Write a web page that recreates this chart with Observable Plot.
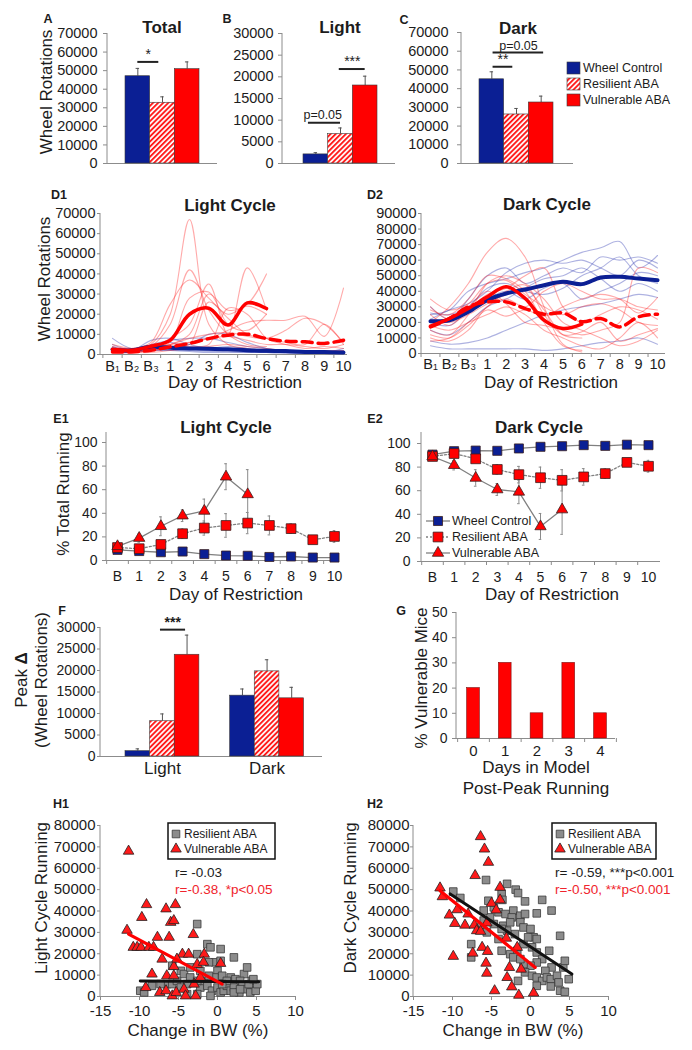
<!DOCTYPE html>
<html>
<head>
<meta charset="utf-8">
<script src="https://cdn.jsdelivr.net/npm/d3@7"></script>
<script src="https://cdn.jsdelivr.net/npm/@observablehq/plot@0.6"></script>
<style>
html, body { margin: 0; padding: 0; background: #fff; }
#fig { position: relative; width: 692px; height: 1050px; overflow: hidden; background: #fff; }
#fig > svg { position: absolute; left: 0; top: 0; }
</style>
</head>
<body>
<div id="fig"></div>
<script>
// ================= DATA =================
const groups = ["Wheel Control", "Resilient ABA", "Vulnerable ABA"];
const totalMean = [47000, 32700, 50800];
const totalErr = [4200, 3200, 3900];
const lightMean = [2100, 6800, 18000];
const lightErr = [400, 1400, 2150];
const darkMean = [45000, 26200, 32600];
const darkErr = [4000, 3200, 3400];

// significance annotations (data units: bar index, value)
const sigTotal = [{x1: 0.5, x2: 1.35, y: 54700, label: "*", tx: 0.92, ty: 58700}];
const sigLight = [
  {x1: 0.2, x2: 1.5, y: 9400, label: "p=0.05", tx: 0.78, ty: 11200},
  {x1: 1.45, x2: 2.5, y: 21800, label: "***", tx: 1.98, ty: 23500}
];
const sigDark = [
  {x1: 0.55, x2: 2.6, y: 59300, label: "p=0.05", tx: 1.58, ty: 62900},
  {x1: 0.55, x2: 1.35, y: 51700, label: "**", tx: 0.95, ty: 55300}
];

const dayLabelsD = ["B\u2081", "B\u2082", "B\u2083", "1", "2", "3", "4", "5", "6", "7", "8", "9", "10"];
const dayLabelsE = ["B", "1", "2", "3", "4", "5", "6", "7", "8", "9", "10"];

// D1 light cycle
const d1WheelMean = [2500, 2100, 3800, 3300, 3000, 2800, 2600, 2100, 1800, 1700, 1300, 1200, 1000];
const d1ResMean = [1300, 1300, 2100, 3800, 5500, 7900, 9600, 10100, 7900, 6600, 6300, 5500, 7100];
const d1VulMean = [2600, 2100, 4100, 7100, 20000, 23000, 14600, 25600, 22800, null, null, null, null];
const d1RedTraces = [
  [3000, 2000, 5000, 20000, 67000, 15000, 5000, 3000, 2000, null, null, null, null],
  [2000, 1500, 4000, 15000, 42000, 22000, 10000, 5000, 4000, null, null, null, null],
  [4000, 3000, 6000, 25000, 37000, 28000, 20000, 24000, 20000, null, null, null, null],
  [1000, 1000, 3000, 8000, 15000, 35000, 10000, 43000, 22000, null, null, null, null],
  [2000, 2000, 3000, 5000, 10000, 30000, 22000, 25000, 40000, null, null, null, null],
  [2000, 2000, 4000, 6000, 28000, 31000, 15000, 12000, 20000, null, null, null, null],
  [1000, 2000, 2000, 4000, 6000, 8000, 12000, 16000, 17000, 17000, 19000, 9000, 33000],
  [3000, 2000, 3000, 5000, 8000, 10000, 11000, 9000, 8000, 12000, 18000, 15000, 6000],
  [2000, 1000, 2000, 3000, 5000, 26000, 18000, 10000, 8000, 6000, 5000, 15000, 5000],
  [1000, 1000, 2000, 3000, 4000, 5000, 23000, 20000, 8000, 5000, 3000, 4000, 3000],
  [5000, 3000, 3000, 5000, 6000, 8000, 9000, 7000, 5000, 5000, 4000, 3000, 5000],
  [1000, 1000, 1000, 2000, 3000, 4000, 5000, 4000, 3000, 2000, 2000, 2000, 2000]
];
const d1BlueTraces = [
  [8000, 3000, 5000, 7000, 8000, 8000, 6000, 4000, 3000, 2000, 2000, 1500, 1500],
  [5000, 2000, 3000, 4000, 5000, 10000, 10000, 6000, 3000, 2000, 1500, 1000, 2000],
  [3000, 1500, 2000, 3000, 3000, 3000, 4000, 3000, 2000, 2000, 1000, 1000, 1000],
  [2000, 1000, 4000, 6000, 3000, 2000, 2000, 2000, 1000, 1000, 1000, 500, 500],
  [1000, 1000, 2000, 2000, 2000, 1500, 1500, 1000, 1000, 1000, 500, 500, 500],
  [4000, 2000, 7000, 8000, 5000, 3000, 2000, 2000, 2000, 1500, 1500, 1000, 3000],
  [1500, 2500, 2500, 2000, 1500, 1000, 1000, 1000, 1000, 500, 500, 500, 500]
];

// D2 dark cycle
const d2WheelMean = [20800, 21400, 26800, 34300, 38600, 41100, 43900, 46100, 44600, 48900, 49300, 48200, 47100];
const d2ResMean = [17100, 22500, 30000, 33200, 33200, 28900, 25300, 26100, 20400, 22500, 17100, 23600, 25300];
const d2VulMean = [17600, 22500, 28900, 36400, 42900, 35400, 21400, 16100, 18900, null, null, null, null];
const d2RedTraces = [
  [20000, 30000, 45000, 65000, 74000, 62000, 30000, 6000, 1000, null, null, null, null],
  [28000, 25000, 35000, 50000, 48000, 40000, 20000, 5000, 2000, null, null, null, null],
  [22000, 20000, 25000, 32000, 38000, 42000, 28000, 12000, 10000, null, null, null, null],
  [15000, 12000, 25000, 45000, 50000, 45000, 35000, 20000, 15000, 10000, 5000, 8000, 15000],
  [25000, 18000, 28000, 38000, 42000, 50000, 55000, 30000, 20000, 25000, 30000, 28000, 22000],
  [10000, 8000, 15000, 30000, 35000, 30000, 40000, 45000, 40000, 35000, 35000, 30000, 28000],
  [18000, 15000, 20000, 25000, 30000, 25000, 15000, 10000, 5000, 3000, 10000, 20000, 10000],
  [30000, 22000, 30000, 40000, 32000, 20000, 18000, 15000, 12000, 15000, 20000, 55000, 52000],
  [12000, 10000, 18000, 28000, 24000, 28000, 24000, 30000, 35000, 38000, 35000, 26000, 36000],
  [8000, 10000, 20000, 30000, 40000, 44000, 25000, 12000, 14000, 20000, 8000, 12000, 16000],
  [35000, 28000, 32000, 45000, 47000, 38000, 30000, 25000, 30000, 32000, 28000, 20000, 18000]
];
const d2BlueTraces = [
  [25000, 28000, 40000, 45000, 48000, 52000, 55000, 60000, 65000, 68000, 72000, 55000, 63000],
  [30000, 22000, 35000, 50000, 55000, 45000, 50000, 55000, 52000, 62000, 60000, 62000, 58000],
  [22000, 28000, 32000, 40000, 52000, 58000, 60000, 58000, 60000, 55000, 50000, 60000, 55000],
  [20000, 18000, 28000, 35000, 40000, 35000, 42000, 45000, 35000, 40000, 45000, 52000, 50000],
  [15000, 12000, 20000, 30000, 35000, 42000, 48000, 50000, 55000, 48000, 40000, 45000, 40000],
  [5000, 3000, 3000, 3000, 3000, 3000, 2000, 3000, 5000, 7000, 8000, 10000, 6000],
  [8000, 6000, 7000, 10000, 15000, 20000, 25000, 28000, 30000, 32000, 35000, 38000, 36000],
  [26000, 25000, 30000, 42000, 45000, 40000, 38000, 42000, 50000, 55000, 62000, 50000, 45000]
];

// E: % of total running
const e1Wheel = [9, 8, 7, 7.6, 5.4, 4.2, 4, 3, 3.4, 2.5, 2.5];
const e1WheelErr = [1, 1, 1, 1, 1, 0.8, 0.8, 0.6, 0.6, 0.5, 0.5];
const e1Res = [11, 10, 13.6, 22.7, 27.5, 29.7, 31.7, 29.7, 27, 17.6, 20.4];
const e1ResErr = [2, 2, 3, 4, 6, 10, 9, 8, 4, 3, 5];
const e1Vul = [12, 19, 29, 38, 42, 71, 56];
const e1VulErr = [2, 3.5, 8, 5, 10, 11, 21];
const e2Wheel = [90.6, 93.5, 94, 93.8, 95.8, 97.2, 97.7, 98.6, 98, 99, 98.6];
const e2WheelErr = [1, 1, 1, 1, 1, 0.8, 0.8, 0.6, 0.6, 0.5, 0.5];
const e2Res = [89, 91.5, 87, 78, 73.6, 71, 68.8, 71.7, 74.5, 84, 80.7];
const e2ResErr = [2, 3, 3, 4, 7, 9, 9, 7, 4, 3, 5];
const e2Vul = [89, 81.6, 70.8, 61, 59, 29.7, 44];
const e2VulErr = [2, 4, 7, 5, 10, 11, 21];

// F: peak delta
const peakCats = ["Light", "Dark"];
const peakLight = [1240, 8200, 23660];
const peakLightErr = [540, 1700, 4570];
const peakDark = [14150, 19800, 13530];
const peakDarkErr = [1550, 2700, 2560];
const sigPeak = [{x1: 1.42, x2: 2.44, y: 29500, label: "***", tx: 1.92, ty: 31100}];

// G: days in model post-peak running
const postPeakDays = [0, 1, 2, 3, 4];
const pctVulnerable = [20, 30, 10, 30, 10];

// H1 light cycle running vs change in BW
const h1Vul = [[-11.4,68000],[-11.6,31000],[-9.7,37000],[-9.1,43000],[-10.8,23000],[-10.3,23000],[-9.8,23000],[-8.8,23000],[-7.7,27700],[-8.2,23000],[-8.4,10500],[-9.2,4200],[-7.4,1900],[-6.6,41000],[-6.2,27700],[-7.1,17500],[-6.0,34700],[-5.6,35500],[-5.4,43000],[-6.5,9700],[-6.6,2700],[-5.6,14000],[-5.6,9700],[-5.8,300],[-5.3,1900],[-4.5,19800],[-3.7,19800],[-4.3,3400],[-4.1,300],[-3.1,29000],[-2.8,300],[-2.6,15000],[-1.7,19800],[-1.8,16000],[0.4,15500],[-5.2,17500],[-3.0,5800],[-2.2,8900]];
const h1Res = [[-2.6,33900],[-1.3,24500],[-0.9,23000],[0.4,22200],[2.1,18300],[-0.3,16000],[-1.1,16000],[-2.6,19800],[0.4,16700],[3.4,10500],[3.8,13600],[-4.7,12000],[-4.3,10500],[-5.8,14400],[0,12000],[0.6,9700],[1.7,8900],[2.3,8100],[2.9,7300],[4.4,7300],[-9.9,2700],[-9.4,1900],[-6.5,5800],[-5.8,5800],[-5.2,7300],[-3.9,5800],[-3.5,8900],[-2.2,4200],[-1.8,7300],[-1.3,5000],[-0.7,2700],[0,4200],[0.4,1900],[0.8,2700],[1.2,5000],[1.7,2700],[2.1,4200],[2.8,1900],[3.2,5000],[3.8,3400],[4.2,1900],[4.9,2700],[5.1,5800],[-0.4,8900],[1.2,7300],[-2.2,12000],[-3.5,13600],[-4.7,4200],[-3.9,1100],[-2.6,1100],[-0.9,300],[-7.3,5800],[-8.4,5000],[2.1,1900],[2.9,3400],[4.0,5800],[4.6,8100],[-1.1,9700],[0.6,5800],[-2.6,7300]];
const h1ResFit = [[-9.9, 7300], [5.3, 6900]];
const h1VulFit = [[-11.4, 29200], [0.6, 5800]];
const h1Stats = ["r= -0.03", "r=-0.38, *p<0.05"];

// H2 dark cycle running vs change in BW
const h2Vul = [[-6.4,74800],[-5.9,69000],[-5.4,62800],[-7.1,56600],[-11.6,50800],[-11.3,46700],[-3.9,51100],[-3.9,45200],[-5.0,43600],[-4.4,40500],[-10.4,38100],[-9.4,40600],[-8.0,38600],[-9.7,34200],[-8.4,33400],[-7.2,33400],[-6.9,30800],[-6.4,30500],[-5.6,34400],[-6.2,23000],[-9.9,18800],[-7.4,20300],[-5.5,21100],[-5.7,15600],[-5.6,10900],[-3.1,27300],[-1.7,23000],[-1.2,12800],[-2.7,13600],[-3.0,8900],[-2.4,4500],[-4.6,2700],[-1.5,600],[0.4,1600]];
const h2Res = [[-9.9,49100],[-9.0,46100],[-5.7,54500],[-3.0,52700],[-1.9,50000],[-1.6,48400],[-3.7,48000],[1.5,45200],[-0.7,44500],[2.7,40200],[-2.2,40200],[-3.6,45200],[-5.4,44800],[-4.7,41700],[-4.1,39400],[-3.2,38600],[-2.4,37000],[-1.3,37800],[-0.7,38600],[0.8,38900],[-5.2,37000],[-6.0,35500],[-6.5,32300],[-4.7,33900],[-3.5,33100],[-2.6,34700],[-1.3,34700],[-0.9,32300],[0,31600],[0.4,27700],[0.8,26900],[-2.0,29200],[-3.0,30800],[-4.1,26900],[-3.7,21400],[-2.6,19800],[-1.7,21400],[-0.9,24500],[-0.3,27700],[0.2,23000],[0.8,20600],[-7.6,24500],[-7.6,18300],[2.4,21400],[3.8,28400],[1.5,17500],[2.7,13600],[1.9,12000],[0.8,15900],[0,14400],[-0.9,15200],[-0.7,11300],[0.2,9700],[0.8,8900],[1.5,7300],[2.1,8900],[2.6,8100],[3.4,9700],[3.6,6600],[4.2,13600],[4.4,16700],[4.9,8100],[3.8,2700],[4.4,2200],[0.8,5000],[2.6,4700],[-1.6,7300],[-2.2,18300],[-1.3,17500],[-3.7,31600],[-6.0,40200],[-5.6,30000]];
const h2ResFit = [[-10.3, 48000], [5.3, 10500]];
const h2VulFit = [[-11.6, 49500], [0.6, 13600]];
const h2Stats = ["r= -0.59, ***p<0.001", "r=-0.50, ***p<0.001"];

// ================= STYLE =================
const W = 692, H = 1050;
const FONT = '"Liberation Sans", Arial, Helvetica, sans-serif';
const AXC = "#8c8c8c", TXT = "#1c1c1c";
const BLUE = "#0b1f94", RED = "#ff0000", STATRED = "#f0242c";
const FILLS = [BLUE, "url(#hatch)", RED];
const NS = "http://www.w3.org/2000/svg";
const fig = document.getElementById("fig");

// hatch pattern defs
const defs = d3.select(fig).append("svg").attr("width", 0).attr("height", 0);
const pat = defs.append("defs").append("pattern").attr("id", "hatch")
  .attr("patternUnits", "userSpaceOnUse").attr("width", 3.6).attr("height", 3.6)
  .attr("patternTransform", "rotate(45)");
pat.append("rect").attr("width", 3.6).attr("height", 3.6).attr("fill", "#fff");
pat.append("rect").attr("width", 1.9).attr("height", 3.6).attr("fill", "#ff1a1a");

function frameOpts([l, t, r, b]) {
  return {
    width: W, height: H,
    marginLeft: l, marginTop: t, marginRight: W - r, marginBottom: H - b,
    style: {background: "transparent", fontFamily: FONT, overflow: "visible"}
  };
}
function yAxisLine(index, scales, values, dims) {
  const {height, marginLeft, marginTop, marginBottom} = dims;
  const l = document.createElementNS(NS, "line");
  l.setAttribute("x1", marginLeft); l.setAttribute("x2", marginLeft);
  l.setAttribute("y1", marginTop); l.setAttribute("y2", height - marginBottom);
  l.setAttribute("stroke", AXC);
  return l;
}
function add(svg) { fig.appendChild(svg); }
const num = d => String(d);

// ---------- A, B, C: grouped bars ----------
function barPanel(mean, err, sig, {frame, xr, yMax, yStep, tickPad, fs = 14.5}) {
  const rows = groups.map((g, i) => ({g, x1: i, x2: i + 1, xc: i + 0.5, v: mean[i], top: mean[i] + err[i]}));
  return Plot.plot({
    ...frameOpts(frame),
    x: {domain: [0, 3], range: xr, axis: null},
    y: {domain: [0, yMax], range: [frame[3], frame[1]]},
    color: {domain: groups, range: FILLS},
    marks: [
      yAxisLine,
      Plot.axisY({ticks: d3.range(0, yMax + 1, yStep), tickSize: 4, tickPadding: tickPad, stroke: AXC, fill: TXT, fontSize: fs, tickFormat: num, label: null}),
      Plot.ruleY([0], {stroke: AXC}),
      Plot.ruleX(rows, {x: "xc", y1: "v", y2: "top", stroke: "#555"}),
      Plot.ruleY(rows, {y: "top", x1: d => d.xc - 0.07, x2: d => d.xc + 0.07, stroke: "#555"}),
      Plot.rectY(rows, {x1: "x1", x2: "x2", y: "v", fill: "g", stroke: "#3a3a3a", strokeWidth: 0.6}),
      Plot.ruleY(sig, {y: "y", x1: "x1", x2: "x2", stroke: "#222", strokeWidth: 2}),
      Plot.text(sig, {x: "tx", y: "ty", text: "label", fill: TXT,
        fontSize: d => d.label.startsWith("p") ? 12.5 : 14, fontWeight: d => d.label.startsWith("p") ? "normal" : "bold"})
    ]
  });
}
add(barPanel(totalMean, totalErr, sigTotal, {frame: [107, 33, 217, 163], xr: [125, 199], yMax: 70000, yStep: 10000, tickPad: 6}));
add(barPanel(lightMean, lightErr, sigLight, {frame: [282, 33, 395, 163], xr: [303, 377], yMax: 30000, yStep: 5000, tickPad: 5}));
add(barPanel(darkMean, darkErr, sigDark, {frame: [461, 32, 573, 163], xr: [479, 553], yMax: 70000, yStep: 10000, tickPad: 9}));

// ---------- D1, D2: individual traces ----------
function toRows(traces) {
  return traces.flatMap((arr, k) => arr.map((v, i) => ({k, i, v})).filter(d => d.v != null));
}
function meanRows(arr) { return arr.map((v, i) => ({i, v})).filter(d => d.v != null); }
function tracePanel({frame, xr, yMax, red, blue, wheel, res, vul, tickPad, labPad}) {
  const C = "catmull-rom";
  return Plot.plot({
    ...frameOpts(frame),
    x: {domain: [0, 12], range: xr},
    y: {domain: [0, yMax], range: [frame[3], frame[1]]},
    marks: [
      yAxisLine,
      Plot.axisY({ticks: d3.range(0, yMax + 1, 10000), tickSize: 3, tickPadding: tickPad, stroke: AXC, fill: TXT, fontSize: 14.5, tickFormat: num, label: null}),
      Plot.axisX({ticks: d3.range(13), tickFormat: i => dayLabelsD[i], tickSize: 0, tickPadding: labPad, fill: TXT, fontSize: 14.5, label: null}),
      Plot.axisX({ticks: d3.range(-0.5, 12, 1), tickFormat: () => "", tickSize: 4, stroke: AXC, label: null}),
      Plot.line(toRows(blue), {x: "i", y: "v", z: "k", stroke: "#2a35b0", strokeOpacity: 0.38, strokeWidth: 1.1, curve: C, clip: true}),
      Plot.line(toRows(red), {x: "i", y: "v", z: "k", stroke: "#ff2020", strokeOpacity: 0.38, strokeWidth: 1.1, curve: C, clip: true}),
      Plot.ruleY([0], {stroke: AXC}),
      Plot.line(meanRows(wheel), {x: "i", y: "v", stroke: BLUE, strokeWidth: 4, curve: C}),
      Plot.line(meanRows(res), {x: "i", y: "v", stroke: RED, strokeWidth: 3.5, strokeDasharray: "10,6", curve: C}),
      Plot.line(meanRows(vul), {x: "i", y: "v", stroke: RED, strokeWidth: 3.5, curve: C})
    ]
  });
}
add(tracePanel({frame: [100, 213, 347, 354], xr: [112, 343], yMax: 70000, red: d1RedTraces, blue: d1BlueTraces,
  wheel: d1WheelMean, res: d1ResMean, vul: d1VulMean, tickPad: 2, labPad: 6}));
add(tracePanel({frame: [421, 213, 665, 353], xr: [430, 657], yMax: 90000, red: d2RedTraces, blue: d2BlueTraces,
  wheel: d2WheelMean, res: d2ResMean, vul: d2VulMean, tickPad: 2, labPad: 5}));

// ---------- E1, E2: % total running ----------
function ePanel({frame, xr, series, tickPad}) {
  const marks = [
    yAxisLine,
    Plot.axisY({ticks: d3.range(0, 101, 20), tickSize: 4, tickPadding: tickPad, stroke: AXC, fill: TXT, fontSize: 14, tickFormat: num, label: null}),
    Plot.axisX({ticks: d3.range(11), tickFormat: i => dayLabelsE[i], tickSize: 0, tickPadding: 11, fill: TXT, fontSize: 14, label: null}),
    Plot.axisX({ticks: d3.range(-0.5, 10, 1), tickFormat: () => "", tickSize: 4, stroke: AXC, label: null}),
    Plot.ruleY([0], {stroke: AXC})
  ];
  for (const s of series) {
    const rows = s.v.map((v, i) => ({i, v, lo: v - s.e[i], hi: v + s.e[i]}));
    marks.push(
      Plot.line(rows, {x: "i", y: "v", stroke: "#808080", strokeWidth: 1.3, strokeDasharray: s.dash || null}),
      Plot.ruleX(rows, {x: "i", y1: "lo", y2: "hi", stroke: "#8a8a8a"}),
      Plot.ruleY(rows, {y: "hi", x1: d => d.i - 0.06, x2: d => d.i + 0.06, stroke: "#8a8a8a"}),
      Plot.ruleY(rows, {y: "lo", x1: d => d.i - 0.06, x2: d => d.i + 0.06, stroke: "#8a8a8a"})
    );
  }
  for (const s of series) {
    marks.push(Plot.dot(s.v.map((v, i) => ({i, v})), {x: "i", y: "v", symbol: s.symbol, fill: s.fill, stroke: "#3a2020", strokeWidth: 0.8, r: s.r}));
  }
  return Plot.plot({
    ...frameOpts(frame),
    x: {domain: [0, 10], range: xr},
    y: {domain: [0, 100], range: [frame[3], frame[3] - 118]},
    marks
  });
}
add(ePanel({frame: [106, 432, 337, 560], xr: [117, 334], tickPad: 5, series: [
  {v: e1Wheel, e: e1WheelErr, symbol: "square", fill: BLUE, r: 5.1},
  {v: e1Res, e: e1ResErr, symbol: "square", fill: RED, r: 5.5, dash: "2,2"},
  {v: e1Vul, e: e1VulErr, symbol: "triangle", fill: RED, r: 4.2}
]}));
add(ePanel({frame: [421, 432, 660, 561], xr: [432, 648], tickPad: 7, series: [
  {v: e2Wheel, e: e2WheelErr, symbol: "square", fill: BLUE, r: 5.1},
  {v: e2Res, e: e2ResErr, symbol: "square", fill: RED, r: 5.5, dash: "2,2"},
  {v: e2Vul, e: e2VulErr, symbol: "triangle", fill: RED, r: 4.2}
]}));

// ---------- F: peak delta ----------
(function () {
  const starts = [0, 4.25];
  const vals = [peakLight, peakDark], errs = [peakLightErr, peakDarkErr];
  const rows = peakCats.flatMap((c, k) => groups.map((g, i) => ({
    c, g, x1: starts[k] + i, x2: starts[k] + i + 1, xc: starts[k] + i + 0.5, v: vals[k][i], top: vals[k][i] + errs[k][i]
  })));
  const cats = peakCats.map((c, k) => ({c, x: starts[k] + 1.5}));
  add(Plot.plot({
    ...frameOpts([100, 627, 322, 756]),
    x: {domain: [0, 7.25], range: [125, 303.5], axis: null},
    y: {domain: [0, 30000], range: [756, 627]},
    color: {domain: groups, range: FILLS},
    marks: [
      yAxisLine,
      Plot.axisY({ticks: d3.range(0, 30001, 5000), tickSize: 3, tickPadding: 2, stroke: AXC, fill: TXT, fontSize: 14, tickFormat: num, label: null}),
      Plot.ruleY([0], {stroke: AXC}),
      Plot.ruleX(rows, {x: "xc", y1: "v", y2: "top", stroke: "#555"}),
      Plot.ruleY(rows, {y: "top", x1: d => d.xc - 0.07, x2: d => d.xc + 0.07, stroke: "#555"}),
      Plot.rectY(rows, {x1: "x1", x2: "x2", y: "v", fill: "g", stroke: "#3a3a3a", strokeWidth: 0.6}),
      Plot.text(cats, {x: "x", y: 0, text: "c", fontSize: 17, fill: TXT, lineAnchor: "top", dy: 5}),
      Plot.ruleY(sigPeak, {y: "y", x1: "x1", x2: "x2", stroke: "#222", strokeWidth: 2}),
      Plot.text(sigPeak, {x: "tx", y: "ty", text: "label", fontSize: 14, fontWeight: "bold", fill: TXT})
    ]
  }));
})();

// ---------- G: post-peak running ----------
(function () {
  const rows = postPeakDays.map((d, i) => ({d, x1: d - 0.2, x2: d + 0.2, v: pctVulnerable[i]}));
  add(Plot.plot({
    ...frameOpts([456, 612, 615, 738]),
    x: {domain: [0, 4], range: [473, 600]},
    y: {domain: [0, 50], range: [738, 612]},
    marks: [
      yAxisLine,
      Plot.axisY({ticks: d3.range(0, 51, 10), tickSize: 4, tickPadding: 5, stroke: AXC, fill: TXT, fontSize: 14, tickFormat: num, label: null}),
      Plot.axisX({ticks: postPeakDays, tickFormat: num, tickSize: 0, tickPadding: 7, fill: TXT, fontSize: 15, label: null}),
      Plot.axisX({ticks: d3.range(-0.5, 4.6, 1), tickFormat: () => "", tickSize: 4, stroke: AXC, label: null}),
      Plot.ruleY([0], {stroke: AXC}),
      Plot.rectY(rows, {x1: "x1", x2: "x2", y: "v", fill: RED, stroke: "#7a1010", strokeWidth: 0.6})
    ]
  }));
})();

// ---------- H1, H2: scatter ----------
function scatterPanel({frame, res, vul, resFit, vulFit, tickPad}) {
  const xy = a => a.map(([x, y]) => ({x, y}));
  return Plot.plot({
    ...frameOpts(frame),
    x: {domain: [-15, 10], range: [frame[0], frame[2]]},
    y: {domain: [0, 80000], range: [frame[3], frame[1]]},
    marks: [
      yAxisLine,
      Plot.axisY({ticks: d3.range(0, 80001, 10000), tickSize: 3, tickPadding: tickPad, stroke: AXC, fill: TXT, fontSize: 15, tickFormat: num, label: null}),
      Plot.axisX({ticks: d3.range(-15, 11, 5), tickSize: 4, tickPadding: 5, stroke: AXC, fill: TXT, fontSize: 15, tickFormat: num, label: null}),
      Plot.ruleY([0], {stroke: AXC}),
      Plot.dot(xy(res), {x: "x", y: "y", symbol: "square", r: 4.3, fill: "#8c8c8c", stroke: "#3a3a3a", strokeWidth: 0.8}),
      Plot.dot(xy(vul), {x: "x", y: "y", symbol: "triangle", r: 3.9, fill: "#ff1a1a", stroke: "#222", strokeWidth: 0.8}),
      Plot.line(xy(resFit), {x: "x", y: "y", stroke: "#111", strokeWidth: 3}),
      Plot.line(xy(vulFit), {x: "x", y: "y", stroke: RED, strokeWidth: 3.2})
    ]
  });
}
add(scatterPanel({frame: [100, 825, 295, 996], res: h1Res, vul: h1Vul, resFit: h1ResFit, vulFit: h1VulFit, tickPad: 2}));
add(scatterPanel({frame: [413, 825, 608, 996], res: h2Res, vul: h2Vul, resFit: h2ResFit, vulFit: h2VulFit, tickPad: 1}));

// ================= TEXT & LEGENDS OVERLAY =================
const ov = d3.select(fig).append("svg").attr("width", W).attr("height", H).attr("font-family", FONT);
function label(s, x, y, {size = 17, weight = "normal", fill = TXT, anchor = "middle", rotate = false} = {}) {
  const t = ov.append("text").attr("x", x).attr("y", y).attr("text-anchor", anchor)
    .attr("dominant-baseline", "central").attr("font-size", size).attr("font-weight", weight).attr("fill", fill).text(s);
  if (rotate) t.attr("transform", `rotate(-90 ${x} ${y})`);
  return t;
}
// titles
[["Total", 162, 27], ["Light", 340, 27], ["Dark", 518, 28], ["Light Cycle", 230, 205], ["Dark Cycle", 547, 204],
 ["Light Cycle", 226, 427], ["Dark Cycle", 539, 427]].forEach(([s, x, y]) => label(s, x, y, {size: 17, weight: "bold"}));
// panel letters
[["A", 48, 19], ["B", 227, 19], ["C", 404, 20], ["D1", 59, 195], ["D2", 375, 195], ["E1", 61, 419], ["E2", 375, 419],
 ["F", 62, 611], ["G", 401, 611], ["H1", 61, 804], ["H2", 375, 804]].forEach(([s, x, y]) => label(s, x, y, {size: 12.5, weight: "bold"}));
// y labels
[["Wheel Rotations", 46, 92], ["Wheel Rotations", 44, 279], ["% Total Running", 63, 494], ["(Wheel Rotations)", 41, 680],
 ["% Vulnerable Mice", 421, 678], ["Light Cycle Running", 41, 898], ["Dark Cycle Running", 350, 898]]
 .forEach(([s, x, y]) => label(s, x, y, {rotate: true}));
{
  const t = label("Peak ", 21, 680, {rotate: true});
  t.append("tspan").attr("font-weight", "bold").text("\u0394");
}
// x labels
[["Day of Restriction", 235, 382], ["Day of Restriction", 551, 382], ["Day of Restriction", 236, 594], ["Day of Restriction", 552, 594],
 ["Days in Model", 536, 767], ["Post-Peak Running", 536, 788], ["Change in BW (%)", 198, 1030], ["Change in BW (%)", 513, 1030]]
 .forEach(([s, x, y]) => label(s, x, y));

// legend A-C
groups.forEach((g, i) => {
  const y = 68 + i * 16;
  ov.append("rect").attr("x", 567).attr("y", y - 6).attr("width", 13).attr("height", 12)
    .attr("fill", FILLS[i]).attr("stroke", "#3a3a3a").attr("stroke-width", 0.6);
  label(g, 583, y, {size: 12.5, anchor: "start"});
});

// legend E2
const eLeg = [
  {dash: null, sym: d3.symbolSquare, size: 5.1 * 5.1 * Math.PI, fill: BLUE},
  {dash: "2,2", sym: d3.symbolSquare, size: 5.5 * 5.5 * Math.PI, fill: RED},
  {dash: null, sym: d3.symbolTriangle, size: 4.2 * 4.2 * Math.PI, fill: RED}
];
groups.forEach((g, i) => {
  const y = 521 + i * 16, s = eLeg[i];
  ov.append("line").attr("x1", 426).attr("x2", 450).attr("y1", y).attr("y2", y).attr("stroke", "#808080")
    .attr("stroke-width", 1.3).attr("stroke-dasharray", s.dash);
  ov.append("path").attr("d", d3.symbol(s.sym, s.size)()).attr("transform", `translate(438,${y})`)
    .attr("fill", s.fill).attr("stroke", "#3a2020").attr("stroke-width", 0.8);
  label(g, 452, y, {size: 12.5, anchor: "start"});
});

// legends H
function hLegend(x0, x1, stats, tx) {
  ov.append("rect").attr("x", x0).attr("y", 823).attr("width", x1 - x0).attr("height", 36)
    .attr("fill", "#fff").attr("stroke", "#111").attr("stroke-width", 1.5);
  ov.append("path").attr("d", d3.symbol(d3.symbolSquare, 4.3 * 4.3 * Math.PI)()).attr("transform", `translate(${x0 + 8},834)`)
    .attr("fill", "#8c8c8c").attr("stroke", "#3a3a3a").attr("stroke-width", 0.8);
  ov.append("path").attr("d", d3.symbol(d3.symbolTriangle, 3.9 * 3.9 * Math.PI)()).attr("transform", `translate(${x0 + 8},849)`)
    .attr("fill", "#ff1a1a").attr("stroke", "#222").attr("stroke-width", 0.8);
  label(groups[1], x0 + 16, 834, {size: 12, anchor: "start"});
  label(groups[2], x0 + 16, 849, {size: 12, anchor: "start"});
  label(stats[0], tx, 872, {size: 13.5, anchor: "start"});
  label(stats[1], tx, 889, {size: 13.5, anchor: "start", fill: STATRED});
}
hLegend(168, 275, h1Stats, 175);
hLegend(552, 656, h2Stats, 555);
</script>
</body>
</html>
